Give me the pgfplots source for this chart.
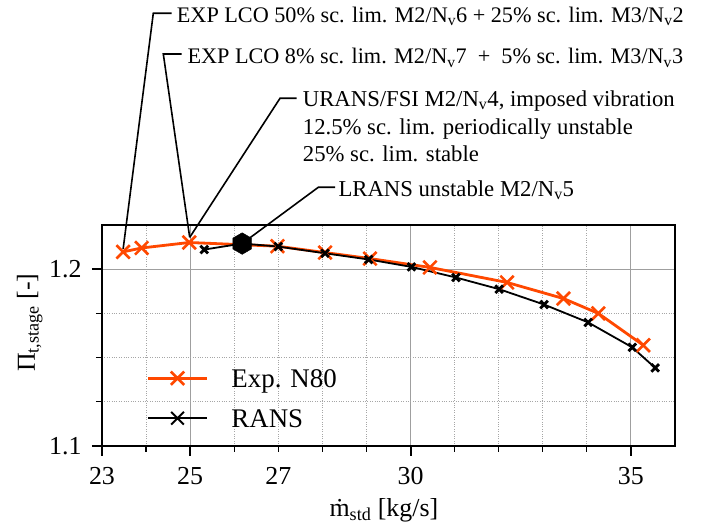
\documentclass[border=0pt]{standalone}
\usepackage{fontspec}
\setmainfont{Liberation Serif}
\usepackage{pgfplots}
\pgfplotsset{compat=1.18}
\definecolor{expor}{RGB}{255,72,0}
\pgfdeclareplotmark{hexagon}{%
  \pgfpathmoveto{\pgfqpointpolar{90}{\pgfplotmarksize}}%
  \pgfpathlineto{\pgfqpointpolar{150}{\pgfplotmarksize}}%
  \pgfpathlineto{\pgfqpointpolar{210}{\pgfplotmarksize}}%
  \pgfpathlineto{\pgfqpointpolar{270}{\pgfplotmarksize}}%
  \pgfpathlineto{\pgfqpointpolar{330}{\pgfplotmarksize}}%
  \pgfpathlineto{\pgfqpointpolar{30}{\pgfplotmarksize}}%
  \pgfpathclose\pgfusepathqfillstroke}
\newcommand{\annfont}{\fontsize{22.8}{27}\selectfont}
\newcommand{\annfontb}{\fontsize{22.3}{27}\selectfont}
\begin{document}
\begin{tikzpicture}[x=1bp,y=1bp]
\begin{axis}[
  at={(0,0)}, anchor=south west,
  scale only axis, width=573bp, height=221bp,
  xmin=23, xmax=36, ymin=1.1, ymax=1.225,
  axis line style={line width=1.6bp},
  tick pos=left, tick align=outside,
  xtick={23,25,30,35},
  minor xtick={24,26,27,28,29,31,32,33,34},
  extra x ticks={27},
  extra x tick style={grid=none, major tick style={draw=none}},
  ytick={1.1,1.2},
  minor ytick={1.125,1.15,1.175},
  yticklabels={1.1,1.2},
  grid=both,
  major grid style={gray!75, line width=0.9bp},
  minor grid style={gray!70, dotted, line width=0.8bp},
  major tick length=10bp, minor tick length=6bp,
  every major tick/.append style={black, line width=2bp},
  every minor tick/.append style={black, line width=1.2bp},
  ticklabel style={font=\fontsize{26}{30}\selectfont},
  xticklabel style={yshift=-8bp},
  yticklabel style={xshift=-7bp},
  /pgf/number format/assume math mode=true,
  xlabel={\.{m}\textsubscript{std} [kg/s]},
  ylabel={Π\textsubscript{t,stage} [-]},
  label style={font=\fontsize{26}{30}\selectfont},
  xlabel style={at={(axis description cs:0.492,-0.318)}, anchor=base},
  ylabel style={at={(axis description cs:-0.126,0.558)}, anchor=center},
  clip=false,
  legend style={draw=none, fill=none, font=\fontsize{27}{32}\selectfont,
    at={(axis cs:23.94,1.1458)}, anchor=north west, row sep=13bp, column sep=23bp,
    nodes={text height=20bp, text depth=7bp, inner sep=0bp, anchor=base west}},
  legend image code/.code={\draw[mark repeat=2,mark phase=2,#1] plot coordinates {(0bp,9bp) (29.5bp,9bp) (59bp,9bp)};},
]
\addplot[expor, line width=2.8bp, mark=x, mark size=9.4bp, mark options={line width=2.6bp}] coordinates {
 (23.48,1.2098) (23.90,1.2120) (24.98,1.2151) (26.98,1.2130) (28.06,1.2094)
 (29.08,1.2060) (30.44,1.2010) (32.19,1.1925) (33.47,1.1834) (34.26,1.1750) (35.28,1.1570)};
\addlegendentry{Exp. N80}
\addlegendimage{black, line width=1.8bp, mark=x, mark size=9bp, mark options={line width=2bp}}
\addlegendentry{RANS}
\addplot[black, forget plot, line width=1.8bp, mark=x, mark size=5.4bp, mark options={line width=2.8bp}] coordinates {
 (25.32,1.2111) (26.18,1.2145) (27.00,1.2128) (28.06,1.2090) (29.05,1.2055)
 (30.02,1.2013) (31.03,1.1953) (32.01,1.1887) (33.03,1.1800) (34.03,1.1699)
 (35.03,1.1558) (35.55,1.1442)};
\addplot[black, forget plot, mark=hexagon, mark size=10.8bp, only marks] coordinates {(26.18,1.2145)};
\coordinate (p1) at (axis cs:23.48,1.2115);
\coordinate (p2) at (axis cs:24.99,1.2180);
\coordinate (p4) at (axis cs:26.18,1.2145);
\end{axis}
\begin{scope}[line width=1.6bp, black]
\draw (p1) -- (51.3,432.7) -- (69.7,432.7);
\draw (p2) -- (61.3,392) -- (79.7,392);
\draw (p2) -- (178,347.7) -- (194.7,347.7);
\draw (p4) -- (216.3,258.7) -- (233,258.7);
\end{scope}
\begin{scope}[every node/.style={inner sep=0bp, anchor=base west, font=\annfont}]
\node[font=\annfontb] at (74.7,423.3) {EXP LCO 50\% sc. lim. M2/N\textsubscript{v}6 + 25\% sc. lim. M3/N\textsubscript{v}2};
\node[font=\annfontb] at (85.3,382) {EXP LCO 8\% sc. lim. M2/N\textsubscript{v}7 \ + \ 5\% sc. lim. M3/N\textsubscript{v}3};
\node at (200.7,339.3) {URANS/FSI M2/N\textsubscript{v}4, imposed vibration};
\node at (200.7,311.7) {12.5\% sc. lim. periodically unstable};
\node at (200.7,284.3) {25\% sc. lim. stable};
\node at (236.3,249.3) {LRANS unstable M2/N\textsubscript{v}5};
\end{scope}
\pgfresetboundingbox
\path[use as bounding box] (-102,-78) rectangle (604,446);
\end{tikzpicture}
\end{document}
